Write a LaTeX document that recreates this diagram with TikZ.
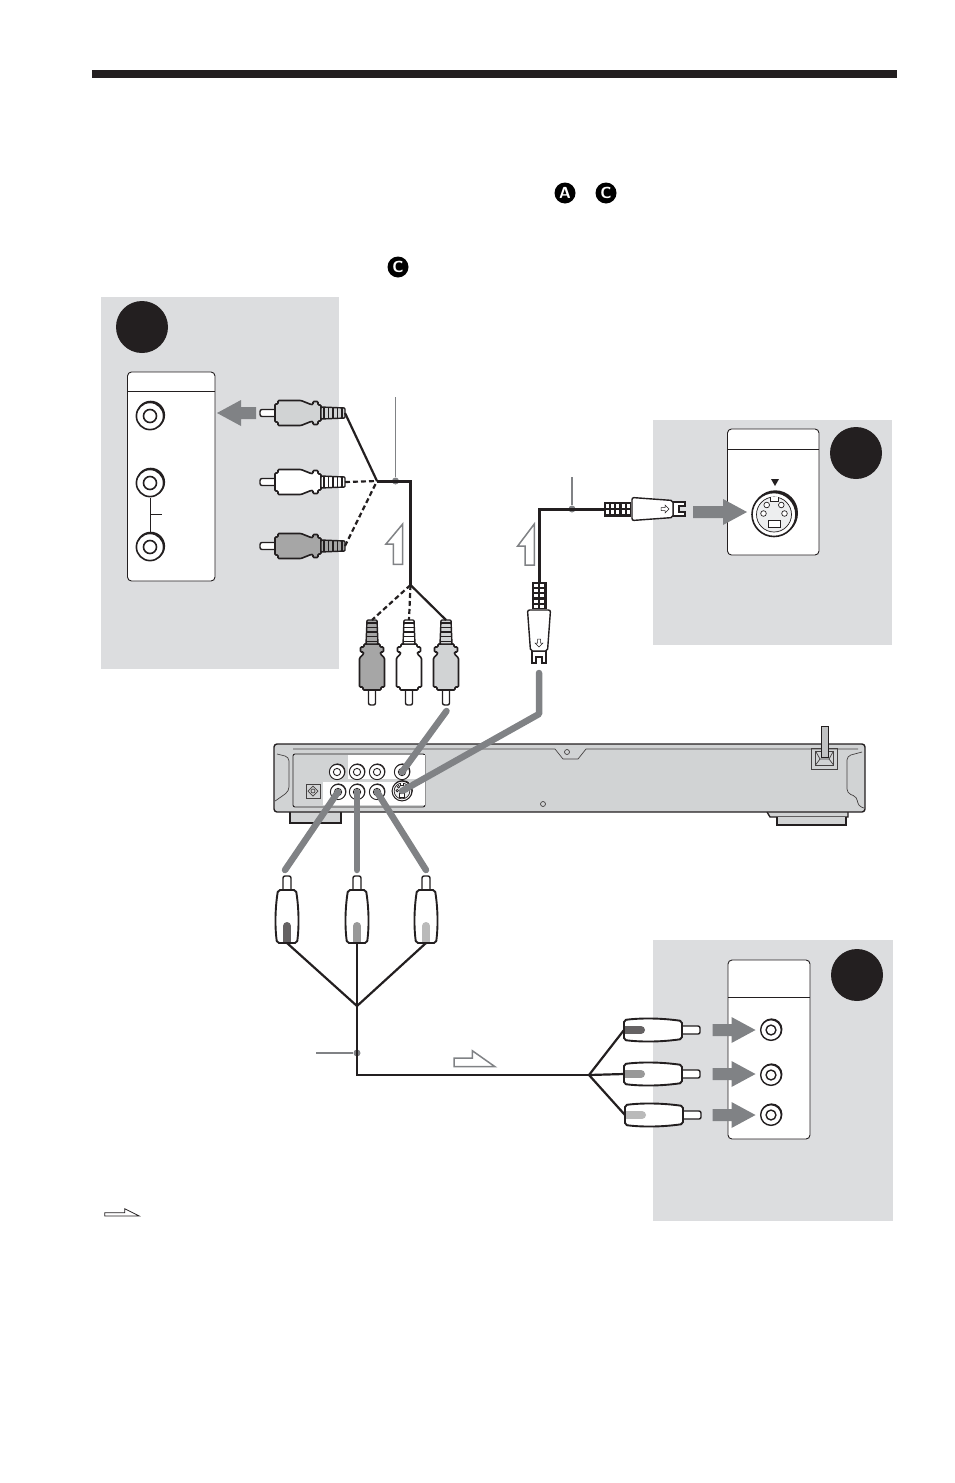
\documentclass[tikz,border=0pt]{standalone}
\usepackage{tikz}
\usetikzlibrary{calc}
\definecolor{panelgray}{HTML}{DCDDDF}
\definecolor{deckgray}{HTML}{D1D3D4}
\definecolor{arrowgray}{HTML}{808285}
\definecolor{inkblack}{HTML}{231F20}
\tikzset{
    panel/.style = {fill=panelgray},
    portbox/.style = {
      draw=inkblack,
      line width=0.9pt,
      fill=white,
      rounded corners=4pt
    },
    bigdot/.style = {circle, fill=inkblack, minimum size=52pt, inner sep=0pt},
    badge/.style = {
      circle,
      fill=black,
      text=white,
      minimum size=21pt,
      inner sep=0pt,
      font=\sffamily\bfseries\fontsize{16}{16}\selectfont
    },
    cable/.style = {draw=inkblack, line width=2.2pt},
    dashcable/.style = {cable, dash pattern=on 5pt off 3pt},
    heavycable/.style = {draw=inkblack, line width=3pt},
    leader/.style = {draw=arrowgray, line width=1.3pt},
    leaderdot/.style = {circle, fill=arrowgray, minimum size=7pt, inner sep=0pt},
    patch/.style = {draw=arrowgray, line width=6.5pt, line cap=round},
    flow/.style = {draw=arrowgray, line width=1.5pt, fill=white},
    plugline/.style = {draw=inkblack, line width=1.4pt},
    deckline/.style = {draw=inkblack!85, line width=0.7pt},
    % rca plug, origin on the pin tip, tail at (85,0): colour, end of the straight part
    pics/rcaplug/.style n args = {2}{code = {
      \draw[plugline, fill=white, rounded corners=2pt] (16,-3.5) -- (0,-3.5) -- (0,3.5) -- (16,3.5);
      \draw[plugline, fill=#1, line width=1.6pt, rounded corners=1pt]
        (15,-9) -- (18,-9) -- (18,-12.5) -- (#2,-12.5) -- (51,-8.5) -- (53,-8.5) -- (53,-11.5) -- (58,-11.5)
        -- (58,-8) -- (61,-8) -- (61,8) -- (58,8)
        -- (58,11.5) -- (53,11.5) -- (53,8.5) -- (51,8.5) -- (#2,12.5) -- (18,12.5) -- (18,9) -- (15,9) -- cycle;
      \draw[plugline, fill=#1, rounded corners=1pt] (61,-6) -- (85,-5) -- (85,5) -- (61,6) -- cycle;
      \draw[draw=inkblack, line width=10pt, dash pattern=on 1.5pt off 3.1pt] (63,0) -- (84,0);
      \coordinate (-tail) at (85,0);
    }},
    % s video plug, origin on the tail
    pics/splug/.style = {code = {
      \fill[inkblack] (0,-7.5) rectangle (27,7.5);
      \draw[white, line width=4.5pt, dash pattern=on 3pt off 2.2pt] (2,-3.2) -- (26,-3.2);
      \draw[white, line width=4.5pt, dash pattern=on 3pt off 2.2pt] (2,3.2) -- (26,3.2);
      \draw[plugline, fill=white] (69,-7) -- (81,-7) -- (81,-3) -- (75,-3) -- (75,3) -- (81,3) -- (81,7) -- (69,7) -- cycle;
      \draw[plugline, fill=white, rounded corners=2pt] (28,-11.5) -- (69,-8.5) -- (69,8.5) -- (28,11.5) -- cycle;
      \draw[line width=0.5pt, draw=inkblack] (57,-1.5) -- (61,-1.5) -- (61,-4) -- (65,0) -- (61,4) -- (61,1.5) -- (57,1.5) -- cycle;
      \coordinate (-tail) at (0,0);
    }},
    % plain plug, origin on the tail: body length, pin length, insert colour
    pics/whiteplug/.style n args = {3}{code = {
      \draw[plugline, fill=white, rounded corners=2pt] (#1,-4) -- (#1+#2,-4) -- (#1+#2,4) -- (#1,4);
      \draw[draw=inkblack, line width=1.9pt, fill=white, rounded corners=2pt]
        (0,-10) .. controls (#1*0.35,-12.5) and (#1*0.7,-11.5) .. (#1,-9)
        -- (#1,9) .. controls (#1*0.7,11.5) and (#1*0.35,12.5) .. (0,10) -- cycle;
      \fill[#3] (1,-4) rectangle (10,4);
      \draw[draw=#3, line width=8pt, line cap=round] (9,0) -- (17,0);
      \coordinate (-tail) at (0,0);
    }},
    % jack with a shadow, line width comes from the pic options
    pics/jack/.style = {code = {
      \fill[inkblack] (0.7pt,0.9pt) circle (14.4pt);
      \draw[draw=inkblack, fill=white] (0,0) circle (13.6pt);
      \draw[draw=inkblack, fill=white] (0,0) circle (6.5pt);
      \coordinate (-c) at (0,0);
    }},
    pics/sjack/.style = {code = {
      \fill[inkblack] (1.2pt,1.4pt) circle (22.8pt);
      \draw[draw=inkblack, fill=white] (0,0) circle (22pt);
      \draw[draw=inkblack, fill=panelgray!50!white, line width=0.7pt] (0,0) circle (17.5pt);
      \draw[draw=inkblack, fill=white, line width=0.7pt] (-4,-17.2) -- (-4,-13) -- (4,-13) -- (4,-17.2);
      \draw[draw=inkblack, fill=white, line width=0.7pt] (-7.3,-9.5) circle (2.8pt);
      \draw[draw=inkblack, fill=white, line width=0.7pt] (7.3,-9.5) circle (2.8pt);
      \draw[draw=inkblack, fill=white, line width=0.7pt] (-10.5,-1) circle (2.8pt);
      \draw[draw=inkblack, fill=white, line width=0.7pt] (10.5,-1) circle (2.8pt);
      \draw[draw=inkblack, fill=white, line width=0.7pt] (-6,6) rectangle (6,13);
      \coordinate (-c) at (0,0);
    }},
    % grey arrow, tip on the origin, #1 is the whole length
    pics/feedarrow/.style = {code = {
      \fill[arrowgray] (0,0) -- (-24,-13) -- (-24,-6) -- (-#1,-6) -- (-#1,6) -- (-24,6) -- (-24,13) -- cycle;
    }},
}
\begin{document}
\begin{tikzpicture}[x=1pt, y=-1pt]
        \useasboundingbox (0,0) rectangle (954,1483);

        \fill[inkblack] (92,70) rectangle (897,78);

        \node[badge] (badgeA) at (565,193) {A};
        \node[badge] (badgeC) at (606,193) {C};
        \node[badge] (badgeCtwo) at (398,267) {C};

        % shaded panels
        \fill[panel] (101,297) rectangle (339,669);
        \fill[panel] (653,420) rectangle (892,645);
        \fill[panel] (653,940) rectangle (893,1221);

        \node[bigdot] (dotaudio) at (142,327) {};
        \node[bigdot] (dotsvideo) at (856,453) {};
        \node[bigdot] (dotcomp) at (857,975) {};

        \draw[portbox] (127.5,372) rectangle (215,581);
        \draw[inkblack, line width=0.9pt] (127.5,391) -- (215,391);
        \draw[portbox] (727.5,429) rectangle (819,555);
        \draw[inkblack, line width=0.9pt] (727.5,449) -- (819,449);
        \draw[portbox] (728,960) rectangle (810,1139);
        \draw[inkblack, line width=0.9pt] (728,997) -- (810,997);

        % audio side
        \pic[line width=1.6pt] (audioR) at (150,416) {jack};
        \pic[line width=1.6pt] (audioW) at (150,483) {jack};
        \pic[line width=1.6pt] (audioL) at (150,547) {jack};
        \draw[inkblack, line width=0.9pt] (audioW-c) ++(0,15) -- ($(audioL-c)+(0,-15)$);
        \draw[inkblack, line width=0.9pt] (150,514) -- (162,514);

        \pic at (217,413) [rotate=180] {feedarrow=39};

        \pic (plugtop) at (260,413) {rcaplug={deckgray}{41}};
        \pic (plugmid) at (260,482) {rcaplug={white}{41}};
        \pic (plugbot) at (260,546) {rcaplug={black!35}{41}};

        \coordinate (joinleft) at (377,481);
        \coordinate (joinright) at (410.5,481);
        \coordinate (joinlow) at (410.5,585);
        \node[leaderdot] (dotaudiocable) at (395.5,481) {};
        \coordinate (leadaudio) at (395.5,397);

        \pic[rotate=90] (plugA) at (372,705) {rcaplug={black!35}{47}};
        \pic[rotate=90] (plugB) at (409,705) {rcaplug={white}{47}};
        \pic[rotate=90] (plugD) at (446,705) {rcaplug={deckgray}{47}};

        \draw[cable] (plugtop-tail) -- (joinleft);
        \draw[dashcable] (plugmid-tail) -- (joinleft);
        \draw[dashcable] (plugbot-tail) -- (joinleft);
        \draw[heavycable] (joinleft) -- (joinright) -- (joinlow);
        \draw[cable] (joinlow) -- (plugD-tail);
        \draw[dashcable] (joinlow) -- (plugB-tail);
        \draw[dashcable] (joinlow) -- (plugA-tail);
        \draw[leader] (leadaudio) -- (dotaudiocable);

        \draw[flow] (402.7,524) -- (386,544) -- (393.3,544) -- (393.3,564.3) -- (402.7,564.3) -- cycle;

        % s video side
        \pic[line width=1.6pt] (svideoin) at (774,514.5) {sjack};
        \fill[inkblack] (771,479) -- (779,479) -- (775,486) -- cycle;
        \pic at (747,512) {feedarrow=54};

        \pic (splugright) at (604,509) {splug};
        \pic[rotate=-90] (splugdown) at (539,582) {splug};
        \coordinate (bendsvideo) at (539,509);
        \node[leaderdot] (dotsvideocable) at (572,509) {};
        \coordinate (leadsvideo) at (572,477);
        \draw[heavycable] (splugdown-tail) -- (bendsvideo) -- (splugright-tail);
        \draw[leader] (leadsvideo) -- (dotsvideocable);

        \draw[flow] (534.3,524) -- (517.7,546) -- (525,546) -- (525,565) -- (534.3,565) -- cycle;

        % the player
        \draw[draw=inkblack, line width=1.5pt, fill=deckgray] (290,812) -- (290,823) -- (341,823) -- (341,812);
        \draw[draw=inkblack, line width=1.3pt, fill=deckgray] (767,812) -- (770,817) -- (848,817) -- (848,812);
        \draw[draw=inkblack, line width=1.5pt, fill=deckgray] (777,817) -- (777,825) -- (846,825) -- (846,817);
        \draw[draw=inkblack, line width=1.4pt, fill=deckgray, rounded corners=3pt]
          (274,744) rectangle (865,812);
        \draw[deckline] (293,749) -- (555,749) -- (563,759) -- (578,759) -- (586,749) -- (858,749);
        \draw[deckline, rounded corners=4pt] (277,754) -- (289,757) -- (289,791) -- (281,797) -- (275,801);
        \draw[deckline, rounded corners=4pt] (862,752) -- (847,756) -- (847,793) -- (857,797) -- (858,806) -- (864,808);
        \draw[draw=inkblack, line width=0.9pt, rounded corners=2pt] (293,754) -- (293,807) -- (425,807) -- (425,754) -- cycle;
        \fill[white] (348,754.5) rectangle (424.5,779);
        \fill[white] (323,782) rectangle (424.5,805);

        \draw[deckline, fill=deckgray, line width=1pt] (306,784) rectangle (320,798);
        \draw[deckline] (313,786) -- (318,791) -- (313,796) -- (308,791) -- cycle;
        \draw[deckline] (313,791) circle (2pt);
        \draw[deckline] (567,752) circle (2.5pt);
        \draw[deckline] (543,804) circle (2.5pt);

        \pic[line width=0.9pt, scale=0.56] (portcoax) at (337,772) {jack};
        \pic[line width=0.9pt, scale=0.56] (portaudioL) at (357,772) {jack};
        \pic[line width=0.9pt, scale=0.56] (portaudioR) at (377,772) {jack};
        \pic[line width=0.9pt, scale=0.56] (portvideo) at (402,772) {jack};
        \pic[line width=0.9pt, scale=0.56] (portY) at (338,792) {jack};
        \pic[line width=0.9pt, scale=0.56] (portPB) at (357,792) {jack};
        \pic[line width=0.9pt, scale=0.56] (portPR) at (377,792) {jack};
        \pic[line width=1pt, scale=0.45] (portsvideo) at (402,791) {sjack};

        % mains inlet and cord
        \draw[deckline, line width=0.9pt] (811.5,748.5) rectangle (837.5,769);
        \draw[deckline] (815.5,751) rectangle (833.5,765);
        \draw[deckline] (815.5,751) -- (820,759) -- (829,759) -- (833.5,751);
        \draw[deckline] (820,759) -- (815.5,765);
        \draw[deckline] (829,759) -- (833.5,765);
        \draw[draw=inkblack, line width=0.7pt, fill=deckgray!80!gray] (821.5,726) rectangle (828.5,757);

        % grey patch lines, front panel of the player
        \coordinate (patchaudio) at (446.5,711);
        \coordinate (patchsvtop) at (539,673);
        \coordinate (patchsvbend) at (539,714);
        \coordinate (patchY) at (285,870);
        \coordinate (patchPB) at (357,870);
        \coordinate (patchPR) at (426,870);
        \draw[patch] (patchaudio) -- (portvideo-c);
        \draw[patch, line join=round] (patchsvtop) -- (patchsvbend) -- (portsvideo-c);
        \draw[patch] (patchY) -- (portY-c);
        \draw[patch] (patchPB) -- (portPB-c);
        \draw[patch] (patchPR) -- (portPR-c);

        % component side
        \pic[rotate=90] (compY) at (287,943) {whiteplug={53}{14}{inkblack!70}};
        \pic[rotate=90] (compPB) at (357,943) {whiteplug={53}{14}{black!40}};
        \pic[rotate=90] (compPR) at (426,943) {whiteplug={53}{14}{black!27}};

        \coordinate (joincomp) at (357,1006);
        \coordinate (bendcomp) at (357,1075);
        \coordinate (joinout) at (589,1075);
        \node[leaderdot] (dotcompcable) at (357,1053) {};
        \coordinate (leadcomp) at (316,1053);

        \pic (outY) at (624,1030) {whiteplug={58}{18}{inkblack!70}};
        \pic (outPB) at (624,1074) {whiteplug={58}{18}{black!40}};
        \pic (outPR) at (625,1115) {whiteplug={58}{18}{black!27}};

        \draw[cable] (compY-tail) -- (joincomp);
        \draw[cable] (compPR-tail) -- (joincomp);
        \draw[cable] (compPB-tail) -- (joincomp) -- (bendcomp) -- (joinout);
        \draw[cable] (joinout) -- (outY-tail);
        \draw[cable] (joinout) -- (outPB-tail);
        \draw[cable] (joinout) -- (outPR-tail);
        \draw[leader] (leadcomp) -- (dotcompcable);

        \draw[flow] (495,1066.7) -- (472.3,1050.7) -- (472.3,1058) -- (454,1058) -- (454,1066.7) -- cycle;

        \pic[line width=1.4pt, scale=0.76] (inY) at (771,1030) {jack};
        \pic[line width=1.4pt, scale=0.76] (inPB) at (771,1075) {jack};
        \pic[line width=1.4pt, scale=0.76] (inPR) at (771,1115) {jack};
        \pic at (755.5,1030) {feedarrow=43};
        \pic at (755.5,1074) {feedarrow=43};
        \pic at (755.5,1115) {feedarrow=43};

        % legend arrow
        \draw[draw=inkblack, line width=0.8pt, fill=white] (139.3,1216) -- (124.7,1208.7) -- (124.7,1212.7) -- (104.7,1212.7) -- (104.7,1216) -- cycle;
      \end{tikzpicture}
\end{document}
